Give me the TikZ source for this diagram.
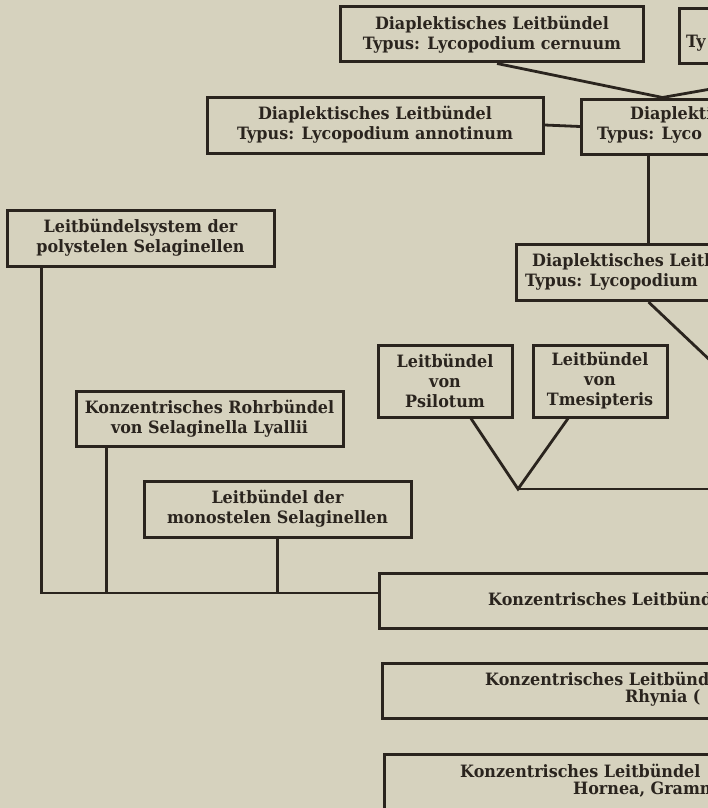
\documentclass[tikz,border=0pt]{standalone}
\usepackage{fontspec}
\setmainfont{DejaVu Serif}[FakeStretch=0.94]
\usetikzlibrary{positioning,calc}
\definecolor{paper}{RGB}{214,210,190}
\definecolor{ink}{RGB}{42,36,30}

\begin{document}
\begin{tikzpicture}[
        x=1pt, y=-1pt,
        every node/.style={font=\fontsize{17}{20}\selectfont\bfseries, text=ink},
        box/.style={rectangle, draw=ink, line width=3pt, align=center, inner sep=0pt},
        cutbox/.style={box, anchor=north west},
        frag/.style={anchor=west, inner sep=0pt},
        link/.style={draw=ink, line width=2.8pt}
      ]
      \useasboundingbox (0,0) rectangle (708,808);
      \fill[paper] (0,0) rectangle (708,808);
      \clip (0,0) rectangle (708,808);

      % Lycopodium boxes
      \node[box, minimum width=303, minimum height=55] (cernuum) at (492,34.5)
        {Diaplektisches Leitbündel\\Typus: Lycopodium cernuum};
      \node[cutbox, minimum width=336, minimum height=55] (topright) at (678,7) {};
      \node[frag] (toprightB) at (686,43) {Ty};
      \node[box, minimum width=336, minimum height=56] (annotinum) at (375,125)
        {Diaplektisches Leitbündel\\Typus: Lycopodium annotinum};
      \node[cutbox, minimum width=162, minimum height=55] (centre) at (580,97.5) {};
      \node[frag] (centreA) at (630,115) {Diaplekti};
      \node[frag] (centreB) at (597,135) {Typus: Lyco};
      \node[cutbox, minimum width=264, minimum height=56] (lower) at (515,243) {};
      \node[frag] (lowerA) at (532,262) {Diaplektisches Leitb};
      \node[frag] (lowerB) at (525,282) {Typus: Lycopodium};

      % Selaginella boxes
      \node[box, minimum width=267, minimum height=56] (polystel) at (140.5,238)
        {Leitbündelsystem der\\polystelen Selaginellen};
      \node[box, minimum width=267, minimum height=55] (lyallii) at (209.5,418.5)
        {Konzentrisches Rohrbündel\\von Selaginella Lyallii};
      \node[box, minimum width=267, minimum height=56] (monostel) at (277.5,509)
        {Leitbündel der\\monostelen Selaginellen};

      % Psilotales
      \node[box, minimum width=134, minimum height=72] (psilotum) at (445,381)
        {Leitbündel\\von\\Psilotum};
      \node[box, minimum width=134, minimum height=72, right=18 of psilotum] (tmesi)
        {Leitbündel\\von\\Tmesipteris};

      % concentric bundles
      \node[cutbox, minimum width=400, minimum height=55] (konz) at (378,572) {};
      \node[frag] (konzA) at (488,599) {Konzentrisches Leitbünd};
      \node[cutbox, minimum width=400, minimum height=55] (rhynia) at (381,662) {};
      \node[frag] (rhyniaA) at (485,679) {Konzentrisches Leitbünd};
      \node[frag] (rhyniaB) at (625,698) {Rhynia (};
      \node[cutbox, minimum width=400, minimum height=56] (hornea) at (383,753) {};
      \node[frag] (horneaA) at (460,771) {Konzentrisches Leitbündel};
      \node[frag] (horneaB) at (573,790) {Hornea, Gramm};

      % connectors
      \coordinate (fork) at (518,489);
      \coordinate (forkOut) at (760,489);
      \coordinate (lowerOut) at (770,417);
      \coordinate (bar) at (378,593);
      \coordinate (lyFoot) at ($(lyallii.south west)+(32,0)$);
      \draw[link] ($(cernuum.south)+(5,0)$) -- (centre.north) -- (topright.south);
      \draw[link] (annotinum.east) -- (centre.west);
      \draw[link] (lower.north |- centre.south) -- (lower.north);
      \draw[link] (lower.south) -- (lowerOut);
      \draw[link] ($(psilotum.south)+(26,0)$) -- (fork) -- ($(tmesi.south)+(-32,0)$);
      \draw[link] (fork) -- (forkOut);
      \draw[link] ($(polystel.south west)+(36,0)$) |- (bar);
      \draw[link] (lyFoot) -- (lyFoot |- bar);
      \draw[link] (monostel.south) -- (monostel.south |- bar);
    \end{tikzpicture}
\end{document}
